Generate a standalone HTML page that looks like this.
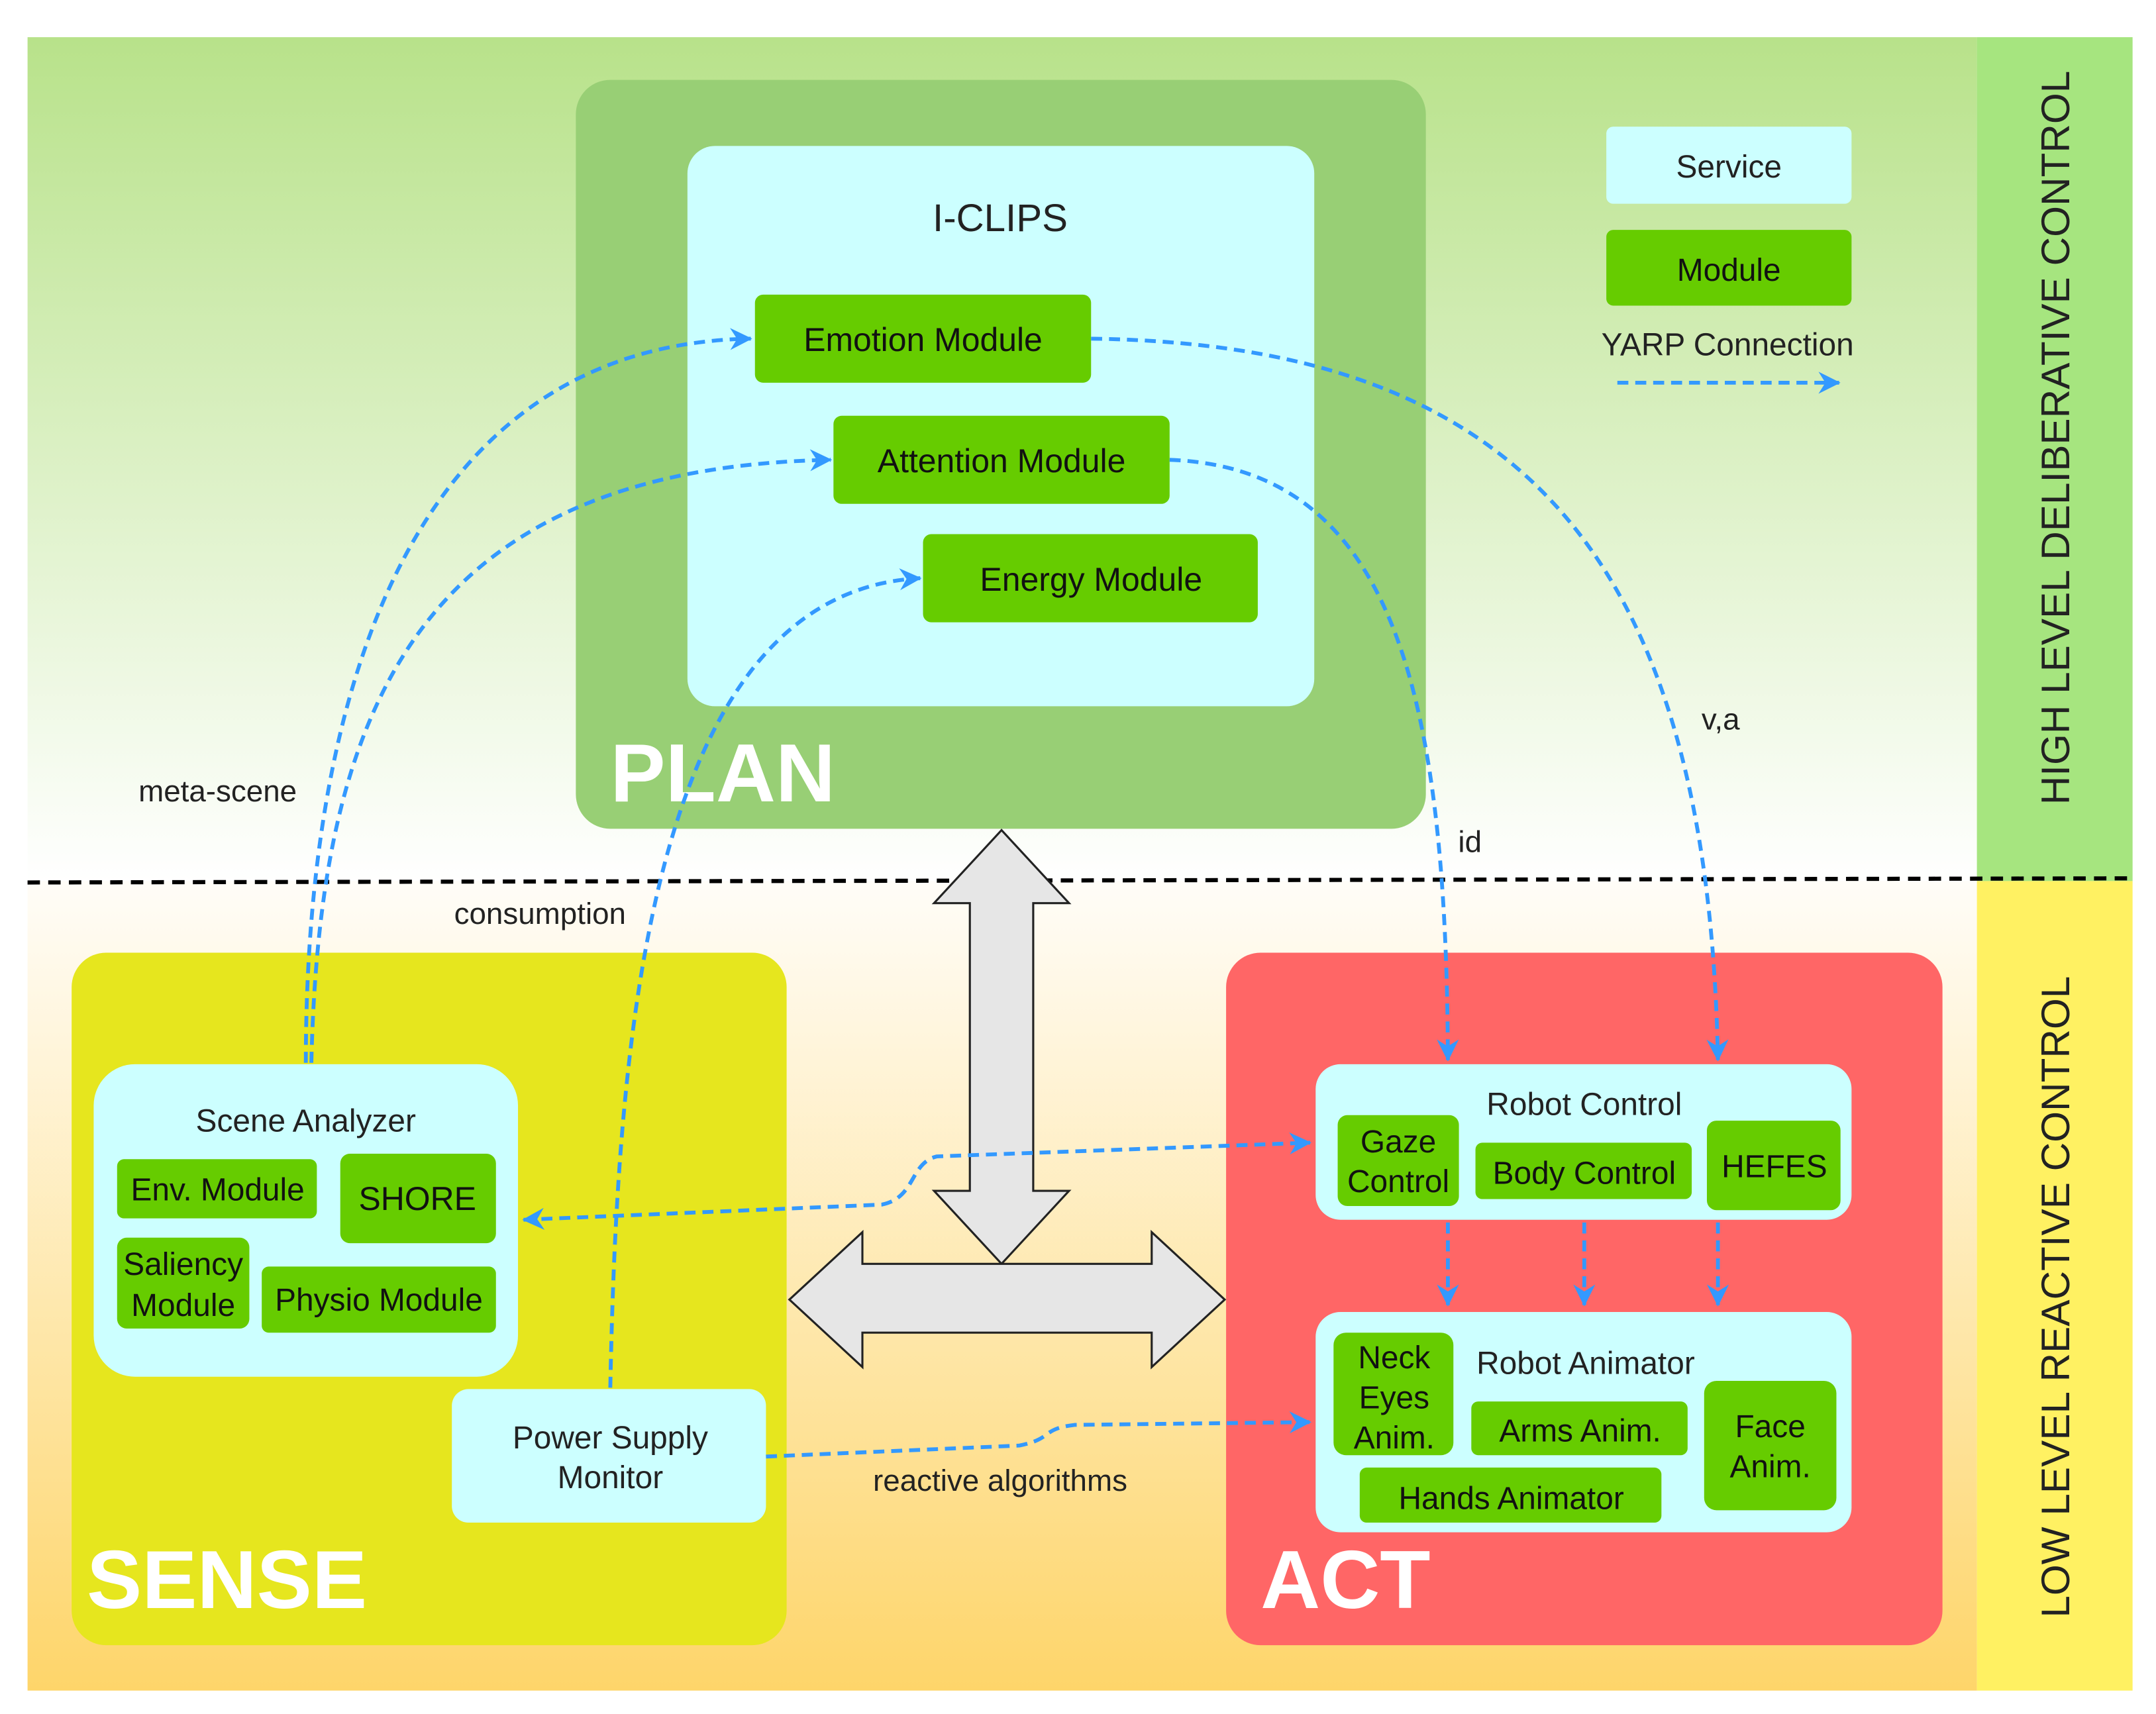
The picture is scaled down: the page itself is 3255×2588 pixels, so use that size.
<!DOCTYPE html>
<html><head><meta charset="utf-8"><style>
html,body{margin:0;padding:0;background:#fff}
svg{display:block}
text{font-family:"Liberation Sans",Arial,sans-serif}
</style></head><body>
<svg width="3255" height="2588" viewBox="0 0 1565 1245" preserveAspectRatio="none" xmlns="http://www.w3.org/2000/svg">
<defs>
<linearGradient id="gtop" x1="0" y1="0" x2="0" y2="1">
<stop offset="0" stop-color="#b8e28a"/><stop offset="1" stop-color="#ffffff"/></linearGradient>
<linearGradient id="gbot" x1="0" y1="0" x2="0" y2="1">
<stop offset="0" stop-color="#fffdf8"/><stop offset="1" stop-color="#fed56a"/></linearGradient>
<marker id="ah" markerWidth="18" markerHeight="18" refX="15" refY="8" orient="auto" markerUnits="userSpaceOnUse">
<path d="M0,0 L16,8 L0,16 L5,8 Z" fill="#3399ff"/></marker>
<marker id="ahs" markerWidth="18" markerHeight="18" refX="1" refY="8" orient="auto" markerUnits="userSpaceOnUse">
<path d="M16,0 L0,8 L16,16 L11,8 Z" fill="#3399ff"/></marker>
</defs>
<rect x="0" y="0" width="1565" height="1245" fill="#fff"/>
<rect x="20" y="27" width="1415" height="613" fill="url(#gtop)"/>
<rect x="20" y="640" width="1415" height="588" fill="url(#gbot)"/>
<rect x="1435" y="27" width="113" height="613" fill="#a6e57f"/>
<rect x="1435" y="640" width="113" height="588" fill="#fff162"/>
<text transform="translate(1502,318) rotate(-90)" text-anchor="middle" font-size="29" fill="#222">HIGH LEVEL DELIBERATIVE CONTROL</text>
<text transform="translate(1502,942) rotate(-90)" text-anchor="middle" font-size="29" fill="#222">LOW LEVEL REACTIVE CONTROL</text>
<line x1="20" y1="641" x2="1548" y2="638" stroke="#000" stroke-width="3" stroke-dasharray="9,6"/>

<!-- PLAN -->
<rect x="418" y="58" width="617" height="544" rx="25" fill="#98cf75"/>
<rect x="499" y="106" width="455" height="407" rx="20" fill="#ccffff"/>
<text x="726" y="168" text-anchor="middle" font-size="28" fill="#222">I-CLIPS</text>
<rect x="548" y="214" width="244" height="64" rx="6" fill="#66cc00"/>
<text x="670" y="255" text-anchor="middle" font-size="24" fill="#111">Emotion Module</text>
<rect x="605" y="302" width="244" height="64" rx="6" fill="#66cc00"/>
<text x="727" y="343" text-anchor="middle" font-size="24" fill="#111">Attention Module</text>
<rect x="670" y="388" width="243" height="64" rx="6" fill="#66cc00"/>
<text x="792" y="429" text-anchor="middle" font-size="24" fill="#111">Energy Module</text>
<text x="443" y="582" font-size="60" font-weight="bold" fill="#fff">PLAN</text>

<!-- Legend -->
<rect x="1166" y="92" width="178" height="56" rx="5" fill="#ccffff"/>
<text x="1255" y="129" text-anchor="middle" font-size="23" fill="#222">Service</text>
<rect x="1166" y="167" width="178" height="55" rx="5" fill="#66cc00"/>
<text x="1255" y="204" text-anchor="middle" font-size="23" fill="#111">Module</text>
<text x="1254" y="258" text-anchor="middle" font-size="23" fill="#222">YARP Connection</text>
<line x1="1174" y1="278" x2="1335" y2="278" stroke="#3399ff" stroke-width="2.8" stroke-dasharray="8,5" marker-end="url(#ah)"/>

<!-- SENSE -->
<rect x="52" y="692" width="519" height="503" rx="25" fill="#e6e61e"/>
<rect x="68" y="773" width="308" height="227" rx="30" fill="#ccffff"/>
<text x="222" y="822" text-anchor="middle" font-size="23" fill="#222">Scene Analyzer</text>
<rect x="85" y="842" width="145" height="43" rx="5" fill="#66cc00"/>
<text x="158" y="872" text-anchor="middle" font-size="23" fill="#111">Env. Module</text>
<rect x="247" y="838" width="113" height="65" rx="7" fill="#66cc00"/>
<text x="303" y="879" text-anchor="middle" font-size="24" fill="#111">SHORE</text>
<rect x="85" y="899" width="96" height="66" rx="7" fill="#66cc00"/>
<text x="133" y="926" text-anchor="middle" font-size="23" fill="#111">Saliency</text>
<text x="133" y="956" text-anchor="middle" font-size="23" fill="#111">Module</text>
<rect x="190" y="920" width="170" height="48" rx="5" fill="#66cc00"/>
<text x="275" y="952" text-anchor="middle" font-size="23" fill="#111">Physio Module</text>
<rect x="328" y="1009" width="228" height="97" rx="12" fill="#ccffff"/>
<text x="443" y="1052" text-anchor="middle" font-size="23" fill="#222">Power Supply</text>
<text x="443" y="1081" text-anchor="middle" font-size="23" fill="#222">Monitor</text>
<text x="63" y="1168" font-size="60" font-weight="bold" fill="#fff">SENSE</text>

<!-- ACT -->
<rect x="890" y="692" width="520" height="503" rx="25" fill="#ff6666"/>
<rect x="955" y="773" width="389" height="113" rx="18" fill="#ccffff"/>
<text x="1150" y="810" text-anchor="middle" font-size="23" fill="#222">Robot Control</text>
<rect x="971" y="810" width="88" height="66" rx="7" fill="#66cc00"/>
<text x="1015" y="837" text-anchor="middle" font-size="23" fill="#111">Gaze</text>
<text x="1015" y="866" text-anchor="middle" font-size="23" fill="#111">Control</text>
<rect x="1071" y="830" width="157" height="41" rx="5" fill="#66cc00"/>
<text x="1150" y="860" text-anchor="middle" font-size="23" fill="#111">Body Control</text>
<rect x="1239" y="814" width="97" height="65" rx="7" fill="#66cc00"/>
<text x="1288" y="855" text-anchor="middle" font-size="23" fill="#111">HEFES</text>

<rect x="955" y="953" width="389" height="160" rx="18" fill="#ccffff"/>
<text x="1151" y="998" text-anchor="middle" font-size="23" fill="#222">Robot Animator</text>
<rect x="968" y="968" width="87" height="89" rx="9" fill="#66cc00"/>
<text x="1012" y="994" text-anchor="middle" font-size="23" fill="#111">Neck</text>
<text x="1012" y="1023" text-anchor="middle" font-size="23" fill="#111">Eyes</text>
<text x="1012" y="1052" text-anchor="middle" font-size="23" fill="#111">Anim.</text>
<rect x="1068" y="1018" width="157" height="39" rx="5" fill="#66cc00"/>
<text x="1147" y="1047" text-anchor="middle" font-size="23" fill="#111">Arms Anim.</text>
<rect x="1237" y="1003" width="96" height="94" rx="9" fill="#66cc00"/>
<text x="1285" y="1044" text-anchor="middle" font-size="23" fill="#111">Face</text>
<text x="1285" y="1073" text-anchor="middle" font-size="23" fill="#111">Anim.</text>
<rect x="987" y="1066" width="219" height="40" rx="5" fill="#66cc00"/>
<text x="1097" y="1096" text-anchor="middle" font-size="23" fill="#111">Hands Animator</text>
<text x="915" y="1168" font-size="60" font-weight="bold" fill="#fff">ACT</text>

<!-- big arrows -->
<path d="M727,603 L776,656 L750,656 L750,865 L776,865 L727,918 L678,865 L704,865 L704,656 L678,656 Z" fill="#e6e6e6" stroke="#222" stroke-width="1.5"/>
<path d="M573,944 L626,895 L626,918 L836,918 L836,895 L889,944 L836,993 L836,968 L626,968 L626,993 Z" fill="#e6e6e6" stroke="#222" stroke-width="1.5"/>

<!-- connectors -->
<g fill="none" stroke="#3399ff" stroke-width="2.8" stroke-dasharray="8,5">
<path d="M222,772 C222,500 300,250 545,246" marker-end="url(#ah)"/>
<path d="M226,772 C232,520 300,340 603,334" marker-end="url(#ah)"/>
<path d="M443,1008 C448,760 470,430 668,420" marker-end="url(#ah)"/>
<path d="M792,246 C1100,250 1240,400 1247,770" marker-end="url(#ah)"/>
<path d="M849,334 C1010,340 1050,500 1051,770" marker-end="url(#ah)"/>
<path d="M380,886 L640,875 C665,870 660,845 680,840 L951,830" marker-start="url(#ahs)" marker-end="url(#ah)"/>
<path d="M556,1058 L740,1050 C765,1045 755,1038 780,1035 L951,1033" marker-end="url(#ah)"/>
<path d="M1051,888 L1051,948" marker-end="url(#ah)"/>
<path d="M1150,888 L1150,948" marker-end="url(#ah)"/>
<path d="M1247,888 L1247,948" marker-end="url(#ah)"/>
</g>

<text x="158" y="582" text-anchor="middle" font-size="22" fill="#222">meta-scene</text>
<text x="392" y="671" text-anchor="middle" font-size="22" fill="#222">consumption</text>
<text x="1067" y="619" text-anchor="middle" font-size="22" fill="#222">id</text>
<text x="1249" y="530" text-anchor="middle" font-size="22" fill="#222">v,a</text>
<text x="726" y="1083" text-anchor="middle" font-size="22" fill="#222">reactive algorithms</text>
</svg>
</body></html>
